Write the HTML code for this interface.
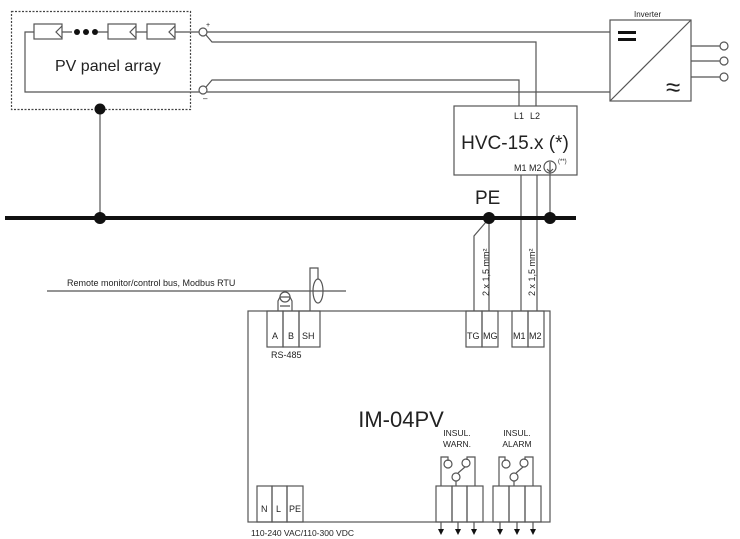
<!DOCTYPE html>
<html><head><style>body{margin:0;background:#fff}svg{display:block}text{font-family:"Liberation Sans",sans-serif;fill:#222}</style></head>
<body>
<svg width="740" height="539" viewBox="0 0 740 539" xmlns="http://www.w3.org/2000/svg">
<g fill="none" stroke="#555" stroke-width="1.2">
<rect x="11.5" y="11.5" width="179" height="98" stroke-dasharray="2,1.5" stroke="#444"/>
<rect x="34" y="24" width="28" height="15"/><path d="M62 26 L56 32 L62 38"/>
<rect x="108" y="24" width="28" height="15"/><path d="M136 26 L130 32 L136 38"/>
<rect x="147" y="24" width="28" height="15"/><path d="M175 26 L169 32 L175 38"/>
<path d="M34 32 H25 V92 H199"/><path d="M62 32 H72 M98 32 H108 M136 32 H147 M175 32 H199"/>
<circle cx="203" cy="32" r="4" fill="#fff"/><circle cx="203" cy="90" r="4" fill="#fff"/>
<path d="M207 32 H610"/><path d="M206 35 L212 42 H536 V106"/>
<path d="M207 92 H610"/><path d="M206 87 L212 80 H519 V106"/>
<rect x="610" y="20" width="81" height="81"/><path d="M610 101 L691 20"/>
<path d="M691 46 H720 M691 61 H720 M691 77 H720"/>
<circle cx="724" cy="46" r="4" fill="#fff"/><circle cx="724" cy="61" r="4" fill="#fff"/><circle cx="724" cy="77" r="4" fill="#fff"/>
<rect x="454" y="106" width="123" height="69"/>
<path d="M521 175 V311 M537 175 V311 M550 173 V218"/>
<circle cx="550" cy="167" r="6"/><path d="M550 162 V172 M547 169 L550 172 L553 169"/>
<path d="M100 109 V218"/>
<path d="M489 218 V311 M486 222 L474 236 V311"/>
<path d="M47 291 H346"/>
<path d="M310 311 V268 H318 V279"/><ellipse cx="318" cy="291" rx="5" ry="12"/>
<path d="M278 311 V301 L280 297 H290 L292 301 V311 M280 306 H290"/><circle cx="285" cy="297" r="5"/>
<rect x="248" y="311" width="302" height="211"/>
<rect x="267" y="311" width="16" height="36"/><rect x="283" y="311" width="16" height="36"/><rect x="299" y="311" width="21" height="36"/>
<rect x="466" y="311" width="16" height="36"/><rect x="482" y="311" width="16" height="36"/>
<rect x="512" y="311" width="16" height="36"/><rect x="528" y="311" width="16" height="36"/>
<rect x="257" y="486" width="15" height="36"/><rect x="272" y="486" width="15" height="36"/><rect x="287" y="486" width="16" height="36"/>
<rect x="436" y="486" width="16" height="36"/><rect x="452" y="486" width="15" height="36"/><rect x="467" y="486" width="16" height="36"/>
<rect x="493" y="486" width="16" height="36"/><rect x="509" y="486" width="16" height="36"/><rect x="525" y="486" width="16" height="36"/>
<path d="M441 486 V457 H448 V461"/><circle cx="448" cy="464" r="4"/>
<path d="M475 486 V457 H467 V460"/><circle cx="466" cy="463" r="4"/>
<circle cx="456" cy="477" r="4"/><path d="M456 481 V486 M458 473 L465 467"/>
<path d="M499 486 V457 H505 V461"/><circle cx="506" cy="464" r="4"/>
<path d="M533 486 V457 H525 V460"/><circle cx="524" cy="463" r="4"/>
<circle cx="514" cy="477" r="4"/><path d="M514 481 V486 M516 473 L523 467"/>
<path d="M441 522 V530 M458 522 V530 M474 522 V530 M500 522 V530 M517 522 V530 M533 522 V530"/>
</g>
<path d="M5 218 H576" stroke="#111" stroke-width="4"/>
<g fill="#111">
<circle cx="100" cy="109" r="5.5"/><circle cx="100" cy="218" r="6"/><circle cx="489" cy="218" r="6"/><circle cx="550" cy="218" r="6"/>
<circle cx="77" cy="32" r="3"/><circle cx="86" cy="32" r="3"/><circle cx="95" cy="32" r="3"/>
<rect x="618" y="31" width="18" height="3"/><rect x="618" y="38" width="18" height="3"/>
<path d="M438 529 h6 l-3 6z M455 529 h6 l-3 6z M471 529 h6 l-3 6z M497 529 h6 l-3 6z M514 529 h6 l-3 6z M530 529 h6 l-3 6z"/>
</g>
<text x="55" y="71" font-size="16">PV panel array</text>
<text x="206" y="27" font-size="7">+</text><text x="203" y="101" font-size="8">–</text>
<text x="634" y="17" font-size="8">Inverter</text>
<text x="666" y="96" font-size="26">≈</text>
<text x="514" y="119" font-size="9">L1</text><text x="530" y="119" font-size="9">L2</text>
<text x="515" y="149" font-size="19" text-anchor="middle">HVC-15.x (*)</text>
<text x="514" y="171" font-size="9">M1</text><text x="529" y="171" font-size="9">M2</text>
<text x="558" y="163" font-size="6">(**)</text>
<text x="475" y="204" font-size="19">PE</text>
<text transform="translate(489,296) rotate(-90)" font-size="9">2 x 1,5 mm²</text>
<text transform="translate(535,296) rotate(-90)" font-size="9">2 x 1,5 mm²</text>
<text x="67" y="286" font-size="9">Remote monitor/control bus, Modbus RTU</text>
<text x="272" y="339" font-size="9">A</text><text x="288" y="339" font-size="9">B</text><text x="302" y="339" font-size="9">SH</text>
<text x="271" y="358" font-size="9">RS-485</text>
<text x="467" y="339" font-size="9">TG</text><text x="483" y="339" font-size="9">MG</text>
<text x="513" y="339" font-size="9">M1</text><text x="529" y="339" font-size="9">M2</text>
<text x="401" y="427" font-size="22" text-anchor="middle">IM-04PV</text>
<text x="457" y="436" font-size="8.5" text-anchor="middle">INSUL.</text><text x="457" y="447" font-size="8.5" text-anchor="middle">WARN.</text>
<text x="517" y="436" font-size="8.5" text-anchor="middle">INSUL.</text><text x="517" y="447" font-size="8.5" text-anchor="middle">ALARM</text>
<text x="261" y="512" font-size="9">N</text><text x="276" y="512" font-size="9">L</text><text x="289" y="512" font-size="9">PE</text>
<text x="251" y="536" font-size="8.5">110-240 VAC/110-300 VDC</text>
</svg>
</body></html>
